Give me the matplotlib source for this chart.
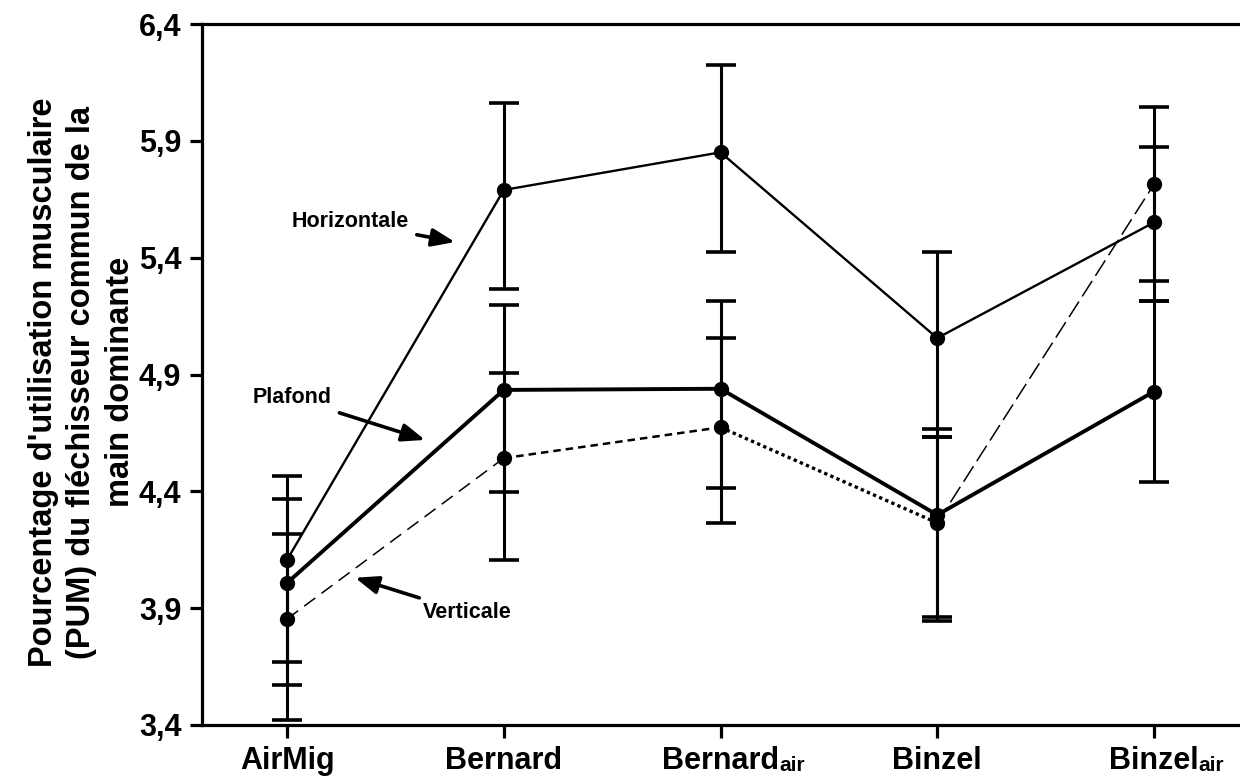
import matplotlib.pyplot as plt
import numpy as np

plt.rcParams['font.family'] = ['Liberation Sans', 'DejaVu Sans']

categories = ["AirMig", "Bernard", "Bernard", "Binzel", "Binzel"]
suffixes = ["", "", "air", "", "air"]

horizontale = np.array([4.107, 5.690, 5.851, 5.056, 5.551])
h_low = np.array([3.670, 5.265, 5.426, 4.633, 5.216])
h_high = np.array([4.466, 6.063, 6.224, 5.426, 5.872])

plafond = np.array([4.008, 4.834, 4.839, 4.299, 4.827])
p_low = np.array([3.572, 4.399, 4.413, 3.863, 4.440])
p_high = np.array([4.367, 5.198, 5.216, 4.667, 5.216])

verticale = np.array([3.854, 4.542, 4.674, 4.265, 5.714])
v_low = np.array([3.422, 4.107, 4.265, 3.846, 5.302])
v_high = np.array([4.218, 4.905, 5.058, 4.633, 6.044])

yticks = [3.4, 3.9, 4.4, 4.9, 5.4, 5.9, 6.4]

x = np.arange(len(categories))

fig = plt.figure(figsize=(12.4, 7.77), dpi=100)
ax = fig.add_axes([0.163, 0.067, 0.837, 0.902])

# error bars
for vals, lo, hi in [(horizontale, h_low, h_high), (plafond, p_low, p_high),
                     (verticale, v_low, v_high)]:
    ax.errorbar(x, vals, yerr=[vals - lo, hi - vals], fmt='none', ecolor='black',
                elinewidth=2.2, capsize=11, capthick=2.6, zorder=2)

ax.plot(x, horizontale, color='black', lw=1.7, zorder=3)
ax.plot(x, plafond, color='black', lw=2.8, zorder=3)

# verticale: segment styles differ in the original
v_styles = [((0, (9, 5)), 1.1), ((0, (3, 2)), 1.8), ((0, (1, 1)), 2.4), ((0, (12, 4)), 1.1)]
for i, (ls, lw) in enumerate(v_styles):
    ax.plot(x[i:i + 2], verticale[i:i + 2], color='black', lw=lw, linestyle=ls, zorder=3)

for vals in [horizontale, plafond, verticale]:
    ax.plot(x, vals, 'o', color='black', markersize=10, zorder=4)

ax.set_xlim(-0.392, 4.397)
ax.set_ylim(3.4, 6.4)
ax.set_yticks(yticks)
ax.set_yticklabels([f"{t:.1f}".replace('.', ',') for t in yticks])
ax.set_xticks(x)
ax.set_xticklabels(categories)

for sp in ['left', 'bottom', 'top']:
    ax.spines[sp].set_linewidth(2.3)
ax.spines['right'].set_visible(False)
ax.tick_params(axis='both', direction='out', length=9, width=2.3, labelsize=22, pad=6)
for lab in ax.get_xticklabels() + ax.get_yticklabels():
    lab.set_fontweight('bold')

fig.text(0.066, 0.508,
         "Pourcentage d'utilisation musculaire\n(PUM) du fléchisseur commun de la\nmain dominante",
         rotation=90, ha='center', va='center', multialignment='center',
         fontsize=23.5, fontweight='bold', linespacing=1.3)

arrow = dict(arrowstyle='-|>,head_length=0.9,head_width=0.35', color='black', lw=2.6,
             shrinkA=4, shrinkB=0)
ax.annotate("Horizontale", xy=(0.775, 5.467), xytext=(0.29, 5.553),
            ha='center', va='center', fontsize=15.5, fontweight='bold', arrowprops=arrow)
ax.annotate("Plafond", xy=(0.637, 4.62), xytext=(0.023, 4.80),
            ha='center', va='center', fontsize=15.5, fontweight='bold', arrowprops=arrow)
ax.annotate("Verticale", xy=(0.314, 4.03), xytext=(0.83, 3.88),
            ha='center', va='center', fontsize=15.5, fontweight='bold', arrowprops=arrow)

# smaller "air" suffix after some tick labels
fig.canvas.draw()
renderer = fig.canvas.get_renderer()
for lab, suf in zip(ax.get_xticklabels(), suffixes):
    if suf:
        bb = lab.get_window_extent(renderer)
        fig.text(bb.x1 / fig.bbox.width, (bb.y0 + 1) / fig.bbox.height, suf,
                 ha='left', va='bottom', fontsize=15, fontweight='bold')

fig.savefig("out.png", dpi=100)
